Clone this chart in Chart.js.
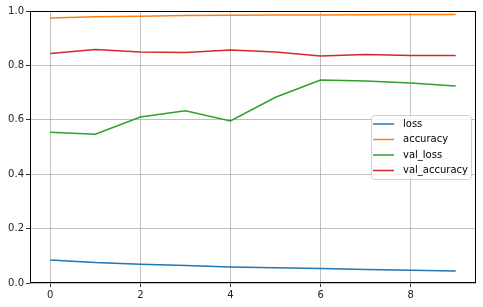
<!DOCTYPE html>
<html>
<head>
<meta charset="utf-8">
<script src="https://cdn.jsdelivr.net/npm/chart.js@4"></script>
<style>
  html, body { margin: 0; padding: 0; background: #fff; }
  canvas { display: block; }
</style>
</head>
<body>
<canvas id="historyChart" width="483" height="307"></canvas>
<script>
const epochs = [0, 1, 2, 3, 4, 5, 6, 7, 8, 9];
const loss = [0.085, 0.075, 0.069, 0.064, 0.059, 0.056, 0.053, 0.050, 0.047, 0.044];
const accuracy = [0.974, 0.979, 0.981, 0.983, 0.984, 0.985, 0.985, 0.986, 0.987, 0.987];
const valLoss = [0.554, 0.547, 0.610, 0.633, 0.596, 0.683, 0.746, 0.743, 0.735, 0.724];
const valAccuracy = [0.844, 0.858, 0.849, 0.847, 0.857, 0.849, 0.835, 0.840, 0.836, 0.836];
const xTicks = [0, 2, 4, 6, 8];
const yTicks = [0, 0.2, 0.4, 0.6, 0.8, 1.0];

const seriesNames = ["loss", "accuracy", "val_loss", "val_accuracy"];
const seriesData = [loss, accuracy, valLoss, valAccuracy];
const colors = ["#1f77b4", "#ff7f0e", "#2ca02c", "#d62728"];

const FONT = "DejaVu Sans";

// frame around the plot + matplotlib-like legend box
const framePlugin = {
  id: "frame",
  afterDraw(chart) {
    const { ctx, chartArea: a } = chart;
    ctx.save();
    ctx.strokeStyle = "#000";
    ctx.lineWidth = 1;
    ctx.strokeRect(a.left + 0.5, a.top + 0.5, a.right - a.left - 1, a.bottom - a.top - 1);

    // legend
    const w = 100, h = 64;
    const x = a.right - 5 - w;
    const y = 115;
    ctx.fillStyle = "rgba(255,255,255,0.8)";
    ctx.strokeStyle = "#d0d0d0";
    ctx.beginPath();
    ctx.roundRect(x + 0.5, y + 0.5, w, h, 3);
    ctx.fill();
    ctx.stroke();
    ctx.font = "10px '" + FONT + "'";
    ctx.textBaseline = "middle";
    ctx.fillStyle = "#000";
    chart.data.datasets.forEach((ds, i) => {
      const ry = y + 9 + i * 15.5;
      ctx.strokeStyle = ds.borderColor;
      ctx.lineWidth = 1.5;
      ctx.beginPath();
      ctx.moveTo(x + 2, ry);
      ctx.lineTo(x + 23, ry);
      ctx.stroke();
      ctx.fillText(ds.label, x + 32, ry);
    });
    ctx.restore();
  }
};

new Chart(document.getElementById("historyChart"), {
  type: "line",
  data: {
    datasets: seriesNames.map((name, i) => ({
      label: name,
      data: epochs.map((e, j) => ({ x: e, y: seriesData[i][j] })),
      borderColor: colors[i],
      backgroundColor: colors[i],
      borderWidth: 1.5,
      pointRadius: 0,
      tension: 0,
      fill: false
    }))
  },
  options: {
    responsive: false,
    animation: false,
    layout: { padding: { top: 11, right: 7, left: 0, bottom: 0 } },
    plugins: {
      legend: { display: false },
      tooltip: { enabled: false }
    },
    scales: {
      x: {
        type: "linear",
        min: -0.45,
        max: 9.45,
        afterBuildTicks: (s) => { s.ticks = xTicks.map(v => ({ value: v })); },
        afterFit: (s) => { s.height = 24; },
        grid: { color: "#b0b0b0", lineWidth: 0.8, tickColor: "#000", tickLength: 4 },
        border: { display: false },
        ticks: { color: "#222", font: { family: FONT, size: 10 }, padding: 2, maxRotation: 0 }
      },
      y: {
        min: 0,
        max: 1,
        afterBuildTicks: (s) => { s.ticks = yTicks.map(v => ({ value: v })); },
        afterFit: (s) => { s.width = 30; },
        grid: { color: "#b0b0b0", lineWidth: 0.8, tickColor: "#000", tickLength: 4 },
        border: { display: false },
        ticks: {
          color: "#222",
          font: { family: FONT, size: 10 },
          padding: 2,
          callback: (v) => v.toFixed(1)
        }
      }
    }
  },
  plugins: [framePlugin]
});
</script>
</body>
</html>
